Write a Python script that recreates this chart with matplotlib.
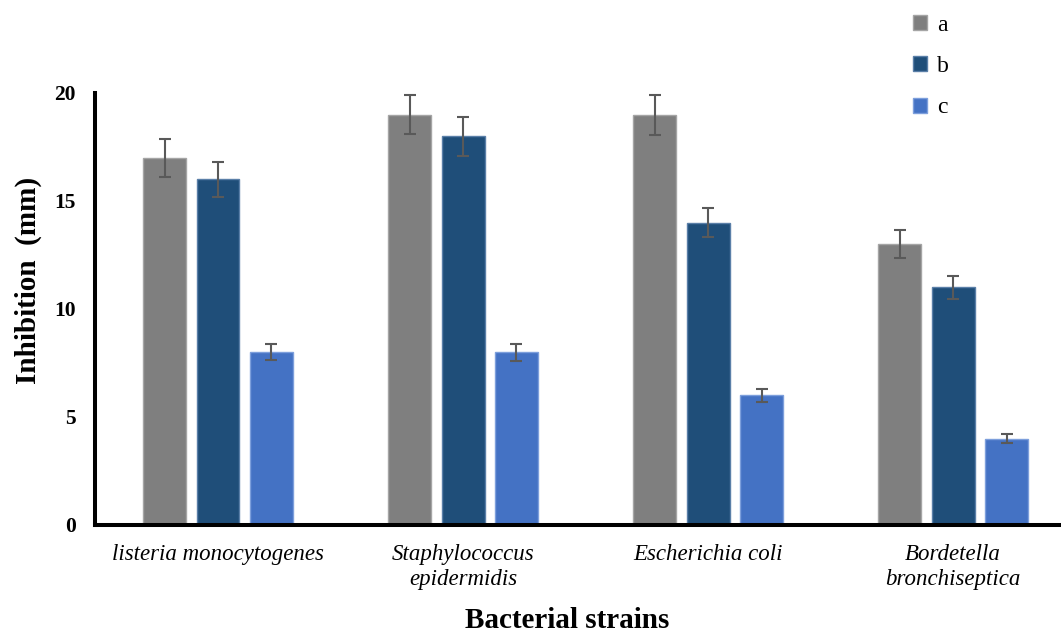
import numpy as np
import matplotlib.pyplot as plt

plt.rcParams['font.family'] = ['Liberation Serif', 'DejaVu Serif']

# data
strains = ['listeria monocytogenes', 'Staphylococcus\nepidermidis',
           'Escherichia coli', 'Bordetella\nbronchiseptica']
series_names = ['a', 'b', 'c']
vals_a = [17, 19, 19, 13]
vals_b = [16, 18, 14, 11]
vals_c = [8, 8, 6, 4]
err_a = [0.87, 0.92, 0.93, 0.65]
err_b = [0.82, 0.90, 0.68, 0.54]
err_c = [0.38, 0.39, 0.29, 0.21]
yticks = [0, 5, 10, 15, 20]

colors = ['#7f7f7f', '#1f4e79', '#4472c4']
edges = ['#a5a5a5', '#5a7fa8', '#7d9fdc']

fig = plt.figure(figsize=(10.61, 6.35), dpi=100)
ax = fig.add_axes([95/1061, 110/635, 1 - 95/1061, 432/635])

x = np.arange(len(strains))
width = 0.175
offset = 0.218
for i, (vals, errs) in enumerate(zip([vals_a, vals_b, vals_c], [err_a, err_b, err_c])):
    ax.bar(x + (i - 1)*offset, vals, width, color=colors[i], edgecolor=edges[i],
           linewidth=1, label=series_names[i], zorder=2)
    ax.errorbar(x + (i - 1)*offset, vals, yerr=errs, fmt='none', ecolor='#595959',
                elinewidth=1.5, capsize=4, capthick=1.5, zorder=3)

ax.set_xlim(-0.502, 3.44)
ax.set_ylim(0, 20)
ax.set_yticks(yticks)
ax.set_yticklabels([str(t) for t in yticks], fontsize=15.5, fontweight='bold')
ax.set_xticks(x)
ax.set_xticklabels(strains, fontsize=16.5, fontstyle='italic', linespacing=1.2)
ax.tick_params(axis='both', length=0)
ax.tick_params(axis='y', pad=14)
ax.tick_params(axis='x', pad=14)

for s in ['top', 'right']:
    ax.spines[s].set_visible(False)
for s in ['left', 'bottom']:
    ax.spines[s].set_linewidth(2.9)
    ax.spines[s].set_color('black')

fig.text(567/1061, 1 - 620/635, 'Bacterial strains', fontsize=21, fontweight='bold',
         ha='center', va='center')
fig.text(28/1061, 1 - 280/635, 'Inhibition  (mm)', fontsize=21, fontweight='bold',
         ha='center', va='center', rotation=90)

leg = fig.legend(loc='upper left', bbox_to_anchor=(892/1061, 1 + 6/635), frameon=False,
                 fontsize=17, handlelength=0.6, handleheight=0.6, handletextpad=0.4,
                 labelspacing=0.85)

fig.savefig('out.png', dpi=100)
